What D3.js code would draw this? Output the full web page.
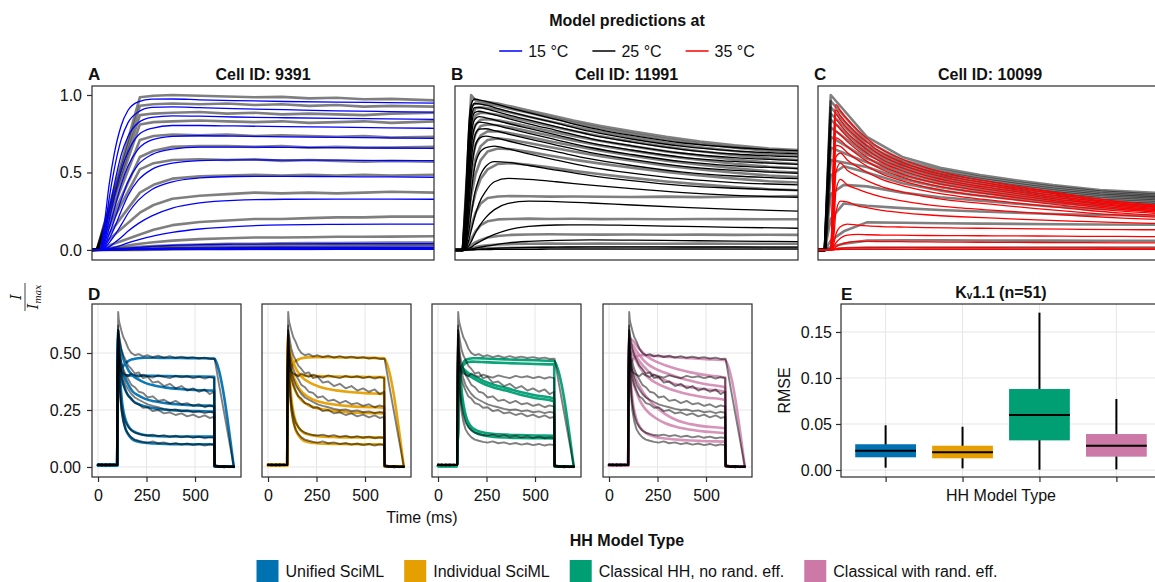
<!DOCTYPE html>
<html>
<head>
<meta charset="utf-8">
<script src="https://cdn.jsdelivr.net/npm/d3@7"></script>
<style>
  html, body { margin: 0; padding: 0; background: #fff; }
  svg { display: block; font-family: "Liberation Sans", Arial, Helvetica, sans-serif; }
</style>
</head>
<body>
<svg id="chart" width="1155" height="582"></svg>
<script>
// ================= data =================
// Panels A–C: normalised K+ currents of three cells (time in ms from step onset window)
const tempLabels = ["15 °C", "25 °C", "35 °C"];
const tempColors = ["#0000ff", "#000000", "#ff0000"];
const cellIds = ["9391", "11991", "10099"];

// Cell 9391 – recorded sweeps
const tA_data = [-15, 0, 125, 165, 220, 300, 380, 460, 540, 620, 700, 780, 860, 985];
const A_data = [
  [0,0.005,0.985,0.995,1.0,0.995,0.99,0.985,0.988,0.978,0.982,0.972,0.975,0.965],
  [0,0.005,0.93,0.94,0.945,0.94,0.945,0.935,0.94,0.93,0.935,0.925,0.93,0.925],
  [0,0.004,0.87,0.88,0.885,0.89,0.88,0.885,0.875,0.88,0.875,0.87,0.88,0.885],
  [0,0.004,0.81,0.825,0.83,0.835,0.83,0.825,0.83,0.82,0.825,0.83,0.82,0.83],
  [0,0.003,0.71,0.735,0.745,0.74,0.745,0.735,0.74,0.735,0.73,0.735,0.725,0.73],
  [0,0.003,0.6,0.64,0.665,0.67,0.67,0.665,0.67,0.66,0.665,0.66,0.66,0.665],
  [0,0.002,0.52,0.56,0.58,0.585,0.58,0.585,0.575,0.58,0.575,0.57,0.575,0.57],
  [0,0.002,0.37,0.42,0.46,0.475,0.48,0.485,0.48,0.485,0.48,0.485,0.48,0.485],
  [0,0.002,0.24,0.29,0.33,0.35,0.36,0.37,0.365,0.37,0.365,0.37,0.375,0.37],
  [0,0.001,0.1,0.13,0.16,0.18,0.19,0.2,0.2,0.205,0.21,0.21,0.215,0.215],
  [0,0.001,0.04,0.05,0.06,0.07,0.075,0.08,0.08,0.082,0.085,0.085,0.086,0.088],
  [0,0,0.02,0.025,0.03,0.035,0.04,0.04,0.042,0.045,0.045,0.046,0.047,0.048],
  [0,0,0.01,0.015,0.02,0.022,0.025,0.027,0.028,0.03,0.03,0.031,0.032,0.033],
  [0,0,0.005,0.008,0.01,0.012,0.014,0.015,0.016,0.017,0.018,0.019,0.02,0.02],
  [0,0,0,0.002,0.003,0.004,0.005,0.006,0.006,0.007,0.008,0.008,0.009,0.01]
];
// Cell 9391 – model at 15 °C
const tA_model = [-15, 8, 20, 35, 50, 70, 90, 120, 160, 220, 300, 400, 550, 700, 850, 985];
const A_model = [
  [0,0,0.15,0.42,0.62,0.8,0.9,0.955,0.973,0.974,0.969,0.964,0.958,0.954,0.951,0.948],
  [0,0,0.1,0.33,0.52,0.71,0.82,0.89,0.92,0.923,0.918,0.912,0.905,0.898,0.893,0.889],
  [0,0,0.07,0.25,0.42,0.61,0.73,0.82,0.855,0.865,0.863,0.858,0.853,0.849,0.846,0.843],
  [0,0,0.05,0.19,0.34,0.51,0.63,0.74,0.785,0.803,0.803,0.8,0.796,0.792,0.788,0.785],
  [0,0,0.035,0.14,0.26,0.42,0.54,0.65,0.71,0.733,0.737,0.734,0.73,0.727,0.723,0.72],
  [0,0,0.02,0.1,0.19,0.32,0.44,0.55,0.615,0.65,0.663,0.664,0.662,0.66,0.658,0.656],
  [0,0,0.015,0.07,0.14,0.25,0.35,0.45,0.52,0.56,0.577,0.581,0.58,0.579,0.577,0.576],
  [0,0,0.01,0.045,0.09,0.16,0.235,0.32,0.39,0.44,0.465,0.474,0.475,0.473,0.471,0.469],
  [0,0,0.005,0.02,0.045,0.08,0.12,0.17,0.22,0.27,0.303,0.32,0.327,0.328,0.328,0.327],
  [0,0,0.002,0.008,0.016,0.03,0.045,0.065,0.088,0.113,0.135,0.151,0.162,0.165,0.166,0.166],
  [0,0,0,0.002,0.004,0.008,0.012,0.017,0.023,0.029,0.034,0.037,0.039,0.04,0.04,0.04],
  [0,0,0,0.001,0.002,0.003,0.005,0.007,0.009,0.011,0.013,0.015,0.016,0.016,0.017,0.017],
  [0,0,0,0,0.001,0.002,0.003,0.004,0.005,0.006,0.007,0.008,0.008,0.009,0.009,0.009],
  [0,0,0,0,0,0.001,0.001,0.002,0.002,0.003,0.003,0.003,0.004,0.004,0.004,0.004]
];

// Cell 11991 – recorded sweeps
const tB_data = [-15, 8, 32, 45, 60, 80, 110, 150, 200, 260, 330, 410, 500, 600, 700, 800, 900, 985];
const B_data = [
  [0,0,1.0,0.965,0.96,0.955,0.945,0.925,0.9,0.87,0.835,0.8,0.765,0.73,0.7,0.675,0.655,0.645],
  [0,0,0.93,0.945,0.945,0.94,0.93,0.91,0.885,0.855,0.82,0.785,0.75,0.715,0.685,0.66,0.64,0.63],
  [0,0,0.86,0.915,0.92,0.915,0.905,0.885,0.86,0.83,0.797,0.762,0.727,0.692,0.663,0.638,0.618,0.607],
  [0,0,0.8,0.87,0.885,0.882,0.873,0.855,0.83,0.8,0.768,0.734,0.7,0.665,0.637,0.612,0.592,0.58],
  [0,0,0.72,0.81,0.84,0.843,0.836,0.82,0.796,0.768,0.736,0.703,0.67,0.636,0.608,0.584,0.565,0.555],
  [0,0,0.64,0.75,0.8,0.81,0.805,0.79,0.766,0.738,0.706,0.673,0.64,0.607,0.58,0.556,0.537,0.527],
  [0,0,0.55,0.68,0.74,0.765,0.765,0.752,0.73,0.702,0.672,0.64,0.608,0.576,0.55,0.527,0.508,0.5],
  [0,0,0.45,0.59,0.67,0.71,0.72,0.71,0.69,0.664,0.635,0.605,0.575,0.544,0.52,0.498,0.48,0.47],
  [0,0,0.35,0.49,0.58,0.635,0.655,0.65,0.633,0.61,0.583,0.557,0.53,0.503,0.48,0.46,0.443,0.435],
  [0,0,0.25,0.37,0.46,0.52,0.555,0.56,0.55,0.533,0.51,0.488,0.465,0.442,0.423,0.406,0.392,0.385],
  [0,0,0.15,0.24,0.3,0.335,0.345,0.348,0.346,0.344,0.345,0.343,0.342,0.344,0.341,0.343,0.345,0.348],
  [0,0,0.07,0.12,0.16,0.185,0.197,0.2,0.202,0.2,0.201,0.199,0.2,0.198,0.2,0.199,0.198,0.198],
  [0,0,0.03,0.05,0.065,0.08,0.09,0.097,0.1,0.101,0.1,0.099,0.1,0.098,0.099,0.097,0.098,0.097],
  [0,0,0.01,0.018,0.025,0.03,0.035,0.038,0.04,0.041,0.04,0.041,0.04,0.04,0.041,0.04,0.04,0.04],
  [0,0,0.003,0.006,0.008,0.01,0.012,0.013,0.014,0.015,0.015,0.015,0.016,0.015,0.015,0.016,0.015,0.015]
];
// Cell 11991 – model at 25 °C
const tB_model = [-15, 10, 18, 26, 34, 42, 55, 75, 100, 140, 200, 280, 380, 500, 650, 800, 985];
const B_model = [
  [0,0,0.44,0.83,0.95,0.974,0.969,0.959,0.945,0.92,0.886,0.842,0.788,0.739,0.69,0.661,0.641],
  [0,0,0.36,0.76,0.91,0.945,0.943,0.934,0.919,0.895,0.861,0.818,0.765,0.716,0.668,0.639,0.62],
  [0,0,0.3,0.69,0.87,0.918,0.92,0.911,0.896,0.872,0.839,0.796,0.743,0.696,0.648,0.619,0.6],
  [0,0,0.24,0.62,0.82,0.885,0.895,0.886,0.872,0.848,0.814,0.772,0.719,0.672,0.624,0.596,0.577],
  [0,0,0.19,0.54,0.76,0.84,0.86,0.853,0.839,0.816,0.784,0.742,0.691,0.645,0.598,0.571,0.552],
  [0,0,0.15,0.47,0.69,0.79,0.825,0.82,0.807,0.784,0.752,0.711,0.661,0.616,0.57,0.543,0.525],
  [0,0,0.11,0.39,0.61,0.73,0.78,0.782,0.77,0.748,0.716,0.677,0.628,0.584,0.539,0.513,0.495],
  [0,0,0.08,0.31,0.52,0.65,0.72,0.735,0.725,0.703,0.672,0.634,0.587,0.545,0.502,0.477,0.46],
  [0,0,0.05,0.22,0.4,0.53,0.62,0.66,0.67,0.652,0.62,0.58,0.535,0.496,0.458,0.435,0.42],
  [0,0,0.03,0.13,0.25,0.36,0.46,0.54,0.57,0.565,0.545,0.515,0.48,0.447,0.415,0.398,0.385],
  [0,0,0.015,0.07,0.14,0.21,0.3,0.38,0.44,0.462,0.455,0.44,0.418,0.395,0.37,0.352,0.34],
  [0,0,0.006,0.03,0.06,0.1,0.15,0.21,0.26,0.3,0.315,0.312,0.303,0.29,0.275,0.262,0.25],
  [0,0,0.002,0.01,0.02,0.033,0.05,0.075,0.1,0.13,0.152,0.161,0.162,0.158,0.152,0.146,0.14],
  [0,0,0,0.003,0.006,0.01,0.016,0.024,0.033,0.045,0.055,0.062,0.065,0.063,0.06,0.057,0.054],
  [0,0,0,0.001,0.002,0.003,0.005,0.007,0.01,0.013,0.016,0.018,0.02,0.02,0.019,0.019,0.018],
  [0,0,0,0,0.001,0.001,0.002,0.002,0.003,0.004,0.004,0.005,0.005,0.005,0.005,0.005,0.005]
];

// Cell 10099 – recorded sweeps (coarsely sampled)
const tC_data = [-15, 5, 22, 60, 127, 230, 340, 456, 560, 668, 805, 985];
const C_data = [
  [0,0,1.0,0.903,0.73,0.6,0.53,0.484,0.45,0.419,0.387,0.366],
  [0,0,0.96,0.866,0.7,0.58,0.515,0.47,0.437,0.407,0.377,0.355],
  [0,0,0.92,0.831,0.675,0.565,0.5,0.457,0.425,0.395,0.366,0.345],
  [0,0,0.88,0.799,0.655,0.55,0.487,0.445,0.413,0.383,0.356,0.337],
  [0,0,0.84,0.766,0.635,0.535,0.473,0.432,0.4,0.372,0.345,0.327],
  [0,0,0.79,0.727,0.615,0.518,0.458,0.418,0.387,0.36,0.334,0.317],
  [0,0,0.73,0.679,0.59,0.5,0.442,0.403,0.373,0.347,0.322,0.305],
  [0,0,0.66,0.626,0.565,0.48,0.425,0.387,0.358,0.333,0.31,0.294],
  [0,0,0.58,0.564,0.535,0.458,0.405,0.37,0.342,0.318,0.297,0.282],
  [0,0,0.48,0.54,0.5,0.43,0.383,0.35,0.325,0.303,0.283,0.27],
  [0,0,0.36,0.42,0.41,0.37,0.34,0.318,0.298,0.28,0.265,0.255],
  [0,0,0.2,0.3,0.285,0.27,0.258,0.248,0.24,0.232,0.225,0.22],
  [0,0,0.06,0.12,0.178,0.175,0.172,0.17,0.168,0.166,0.164,0.162],
  [0,0,0.02,0.04,0.06,0.062,0.062,0.061,0.06,0.06,0.059,0.058],
  [0,0,0.005,0.01,0.015,0.016,0.016,0.016,0.016,0.016,0.016,0.016]
];
// Cell 10099 – model at 35 °C
const tC_model = [-15, 22, 28, 32, 37, 50, 70, 100, 130, 170, 220, 300, 400, 500, 620, 750, 870, 985];
const C_model = [
  [0,0,0.45,0.8,0.938,0.9,0.845,0.775,0.715,0.65,0.595,0.53,0.475,0.435,0.39,0.345,0.31,0.286],
  [0,0,0.4,0.75,0.903,0.867,0.814,0.747,0.69,0.627,0.575,0.512,0.46,0.422,0.379,0.335,0.302,0.279],
  [0,0,0.36,0.7,0.873,0.838,0.787,0.723,0.667,0.607,0.557,0.497,0.446,0.41,0.368,0.326,0.294,0.272],
  [0,0,0.32,0.66,0.839,0.806,0.757,0.696,0.643,0.585,0.537,0.48,0.431,0.396,0.357,0.317,0.286,0.265],
  [0,0,0.28,0.62,0.809,0.777,0.73,0.671,0.621,0.565,0.519,0.464,0.418,0.384,0.346,0.308,0.278,0.258],
  [0,0,0.24,0.57,0.765,0.744,0.699,0.643,0.595,0.542,0.498,0.446,0.402,0.37,0.334,0.297,0.269,0.25],
  [0,0,0.2,0.52,0.725,0.709,0.667,0.614,0.568,0.519,0.477,0.428,0.386,0.356,0.321,0.287,0.26,0.242],
  [0,0,0.16,0.45,0.675,0.668,0.629,0.58,0.537,0.491,0.452,0.406,0.367,0.339,0.307,0.275,0.25,0.233],
  [0,0,0.12,0.36,0.6,0.625,0.581,0.536,0.498,0.456,0.421,0.379,0.344,0.318,0.289,0.26,0.237,0.222],
  [0,0,0.09,0.28,0.5,0.56,0.515,0.477,0.444,0.409,0.379,0.343,0.313,0.292,0.267,0.242,0.223,0.21],
  [0,0,0.06,0.19,0.38,0.455,0.42,0.392,0.368,0.342,0.32,0.293,0.271,0.255,0.237,0.219,0.205,0.195],
  [0,0,0.035,0.11,0.24,0.315,0.31,0.285,0.271,0.255,0.243,0.227,0.214,0.205,0.194,0.184,0.176,0.17],
  [0,0,0.015,0.05,0.1,0.15,0.167,0.16,0.155,0.151,0.148,0.144,0.141,0.139,0.136,0.133,0.131,0.13],
  [0,0,0.008,0.025,0.045,0.075,0.096,0.1,0.098,0.096,0.095,0.093,0.092,0.091,0.09,0.088,0.087,0.086],
  [0,0,0.003,0.01,0.02,0.035,0.048,0.055,0.055,0.054,0.053,0.052,0.05,0.049,0.048,0.047,0.046,0.045],
  [0,0,0.001,0.003,0.006,0.01,0.013,0.015,0.015,0.015,0.015,0.014,0.014,0.014,0.013,0.013,0.012,0.011],
  [0,0,0,0.001,0.002,0.003,0.004,0.004,0.004,0.004,0.004,0.004,0.004,0.004,0.004,0.004,0.004,0.004]
];

// Panel D: one cell's sweeps (step 100–600 ms) and the four fitted model types
const tD_data = [0,20,40,60,80,99,101,104,108,114,120,130,142,156,172,190,210,232,256,282,310,340,370,400,430,460,490,520,550,575,599,601,625,650,675,700];
const D_data = [
  [.01,.006,.012,.008,.011,.009,.45,.68,.64,.62,.6,.57,.55,.52,.5,.49,.495,.485,.49,.482,.488,.48,.486,.479,.484,.478,.482,.476,.48,.474,.475,.474,.356,.238,.119,.002],
  [.008,.012,.007,.01,.009,.008,.5,.62,.52,.45,.42,.41,.405,.398,.41,.402,.395,.405,.398,.392,.402,.395,.39,.4,.393,.398,.39,.396,.388,.394,.39,.01,.004,-.002,.003,.001],
  [.012,.008,.01,.006,.011,.009,.45,.6,.58,.55,.52,.49,.47,.445,.43,.41,.415,.39,.395,.37,.375,.355,.365,.345,.355,.335,.345,.33,.34,.32,.33,.006,.001,.004,-.001,.002],
  [.009,.011,.006,.01,.008,.01,.4,.56,.53,.49,.46,.43,.405,.385,.36,.35,.33,.325,.305,.31,.29,.295,.28,.29,.275,.28,.268,.275,.262,.27,.265,.005,.002,.005,0,.003],
  [.01,.007,.011,.008,.009,.01,.38,.52,.49,.45,.42,.39,.36,.34,.32,.305,.295,.285,.275,.268,.262,.255,.25,.252,.245,.248,.24,.244,.236,.242,.238,.004,0,.003,.001,0],
  [.007,.01,.008,.012,.007,.009,.36,.5,.46,.42,.39,.36,.335,.31,.3,.28,.275,.26,.262,.245,.25,.235,.24,.228,.235,.222,.23,.218,.226,.215,.22,.003,.003,-.001,.002,.001],
  [.011,.008,.01,.007,.01,.008,.45,.6,.45,.34,.28,.23,.195,.175,.16,.15,.145,.14,.138,.142,.135,.14,.132,.137,.13,.135,.128,.133,.126,.13,.127,.004,.001,.003,0,.002],
  [.008,.01,.007,.011,.009,.01,.42,.58,.42,.31,.25,.2,.165,.145,.13,.12,.115,.11,.107,.112,.104,.108,.1,.105,.098,.103,.096,.101,.094,.099,.096,.003,0,.002,.001,0]
];
const tD_model = [0,99,101,104,108,114,122,132,145,160,180,205,240,290,350,420,500,599,601,700];
const D_unified = [
  [.008,.008,.3,.36,.39,.41,.43,.445,.458,.467,.473,.477,.479,.479,.478,.478,.477,.476,.474,0],
  [.008,.008,.35,.39,.4,.402,.403,.403,.402,.402,.401,.401,.4,.4,.399,.398,.397,.396,.003,.002],
  [.008,.008,.45,.58,.56,.53,.5,.47,.445,.42,.4,.385,.37,.357,.348,.342,.338,.335,.003,.002],
  [.008,.008,.42,.55,.52,.48,.44,.41,.38,.355,.33,.315,.3,.288,.28,.274,.27,.268,.003,.002],
  [.008,.008,.4,.5,.47,.43,.39,.36,.33,.31,.29,.277,.266,.257,.251,.247,.245,.243,.003,.002],
  [.008,.008,.5,.6,.5,.39,.3,.24,.2,.175,.158,.148,.14,.136,.134,.134,.133,.133,.003,.002],
  [.008,.008,.48,.57,.46,.35,.26,.2,.16,.137,.12,.112,.106,.103,.101,.1,.1,.1,.003,.002]
];
const D_individual = [
  [.008,.008,.3,.37,.4,.42,.44,.455,.466,.473,.478,.481,.482,.482,.481,.48,.479,.477,.475,0],
  [.008,.008,.36,.395,.403,.405,.405,.404,.403,.402,.401,.4,.399,.398,.397,.396,.395,.394,.003,.002],
  [.008,.008,.46,.56,.54,.51,.48,.455,.43,.41,.39,.375,.36,.345,.336,.329,.324,.32,.003,.002],
  [.008,.008,.43,.53,.5,.46,.425,.395,.37,.345,.325,.308,.293,.281,.273,.267,.263,.26,.003,.002],
  [.008,.008,.4,.49,.46,.42,.385,.355,.327,.305,.287,.273,.261,.252,.245,.24,.237,.235,.003,.002],
  [.008,.008,.5,.58,.48,.37,.29,.235,.195,.17,.153,.143,.137,.133,.131,.13,.13,.13,.003,.002],
  [.008,.008,.48,.55,.44,.33,.25,.195,.158,.135,.118,.11,.105,.102,.101,.1,.1,.1,.003,.002]
];
const D_classical = [
  [.005,.005,.1,.2,.3,.4,.44,.46,.47,.475,.477,.477,.476,.474,.472,.47,.468,.465,.463,0],
  [.005,.005,.1,.2,.3,.39,.43,.448,.457,.461,.462,.461,.46,.458,.456,.454,.452,.45,.003,.002],
  [.005,.005,.1,.2,.32,.44,.44,.43,.42,.41,.4,.39,.375,.36,.347,.33,.315,.3,.003,.002],
  [.005,.005,.1,.2,.32,.43,.43,.42,.41,.4,.39,.378,.363,.348,.335,.318,.303,.288,.003,.002],
  [.005,.005,.1,.2,.3,.4,.33,.27,.22,.19,.17,.158,.15,.145,.142,.14,.138,.137,.003,.002],
  [.005,.005,.1,.2,.3,.38,.31,.25,.205,.177,.158,.146,.138,.132,.129,.127,.126,.125,.003,.002]
];
const D_randeff = [
  [.008,.008,.3,.38,.42,.45,.47,.48,.487,.49,.49,.489,.487,.484,.48,.477,.473,.469,.467,0],
  [.008,.008,.45,.56,.565,.56,.555,.545,.53,.515,.497,.48,.463,.446,.43,.415,.403,.392,.003,.002],
  [.008,.008,.44,.54,.545,.54,.535,.522,.505,.487,.467,.448,.43,.413,.395,.378,.363,.349,.003,.002],
  [.008,.008,.42,.52,.53,.525,.515,.5,.48,.46,.44,.418,.398,.38,.362,.35,.34,.33,.003,.002],
  [.008,.008,.4,.5,.51,.505,.495,.478,.457,.435,.413,.39,.37,.35,.332,.317,.305,.294,.003,.002],
  [.008,.008,.4,.47,.46,.445,.425,.4,.375,.35,.322,.295,.265,.232,.205,.188,.177,.17,.003,.002],
  [.008,.008,.42,.5,.45,.41,.38,.35,.32,.29,.262,.238,.215,.192,.175,.163,.155,.148,.003,.002],
  [.008,.008,.45,.56,.45,.36,.29,.24,.2,.175,.155,.142,.132,.125,.12,.116,.113,.111,.003,.002]
];

// Panel E: RMSE distribution per model type (Kv1.1, n = 51)
const modelTypes = ["Unified SciML", "Individual SciML", "Classical HH, no rand. eff.", "Classical with rand. eff."];
const modelColors = ["#0072B2", "#E69F00", "#009E73", "#CC79A7"];
const rmseLow  = [0.0025, 0.0018, 0.0003, 0.0007];
const rmseQ1   = [0.0138, 0.0127, 0.0322, 0.0145];
const rmseMed  = [0.0210, 0.0192, 0.0598, 0.0264];
const rmseQ3   = [0.0280, 0.0264, 0.0880, 0.0391];
const rmseHigh = [0.0486, 0.0470, 0.1710, 0.0772];

// axis ticks
const topYTicks = [0, 0.5, 1.0];
const dYTicks = [0, 0.25, 0.5];
const dXTicks = [0, 250, 500];
const eYTicks = [0, 0.05, 0.10, 0.15];

// ================= drawing =================
const svg = d3.select("#chart");
const INK = "#111";
const SPINE = "#2b2b2b";
const GRID = "#e6e6e6";
let clipId = 0;

function clipFor(box) {
  const id = "clip" + (clipId++);
  svg.append("clipPath").attr("id", id).append("rect")
    .attr("x", box.x).attr("y", box.y).attr("width", box.w).attr("height", box.h);
  return `url(#${id})`;
}

function drawLines(layer, t, rows, x, y, style, curve) {
  const line = d3.line().x((d, i) => x(t[i])).y(d => y(d)).curve(curve);
  layer.append("g").selectAll("path").data(rows).join("path")
    .attr("d", line)
    .attr("fill", "none")
    .attr("stroke", style.color)
    .attr("stroke-width", style.width)
    .attr("stroke-opacity", style.opacity)
    .attr("stroke-linejoin", "round")
    .attr("stroke-linecap", "round");
}

function frame(box) {
  svg.append("rect").attr("x", box.x).attr("y", box.y).attr("width", box.w).attr("height", box.h)
    .attr("fill", "none").attr("stroke", SPINE).attr("stroke-width", 1.2);
}

function styleAxis(g) {
  g.select(".domain").remove();
  g.selectAll(".tick line").attr("stroke", SPINE).attr("stroke-width", 1.2);
  g.selectAll(".tick text").attr("fill", INK).style("font-size", "16px")
    .style("font-family", "'Liberation Sans', Arial, sans-serif");
}

function label(x, y, text, opts = {}) {
  return svg.append("text").attr("x", x).attr("y", y)
    .attr("text-anchor", opts.anchor || "middle")
    .attr("font-size", opts.size || 16)
    .attr("font-weight", opts.bold ? "bold" : "normal")
    .attr("fill", INK)
    .text(text);
}

// ---- top row: A, B, C ----
const topBoxes = [
  {x: 92, y: 86, w: 342, h: 174},
  {x: 455, y: 86, w: 343, h: 174},
  {x: 818, y: 86, w: 344, h: 174}
];
const topSets = [
  {tD: tA_data, D: A_data, tM: tA_model, M: A_model},
  {tD: tB_data, D: B_data, tM: tB_model, M: B_model},
  {tD: tC_data, D: C_data, tM: tC_model, M: C_model}
];
const panelLetters = ["A", "B", "C"];

topBoxes.forEach((box, k) => {
  const x = d3.scaleLinear().domain([-15, 985]).range([box.x, box.x + box.w]);
  const y = d3.scaleLinear().domain([-0.065, 1.058]).range([box.y + box.h, box.y]);
  const layer = svg.append("g").attr("clip-path", clipFor(box));
  const s = topSets[k];
  drawLines(layer, s.tD, s.D, x, y, {color: "#000", width: 2.6, opacity: 0.5}, d3.curveLinear);
  drawLines(layer, s.tM, s.M, x, y, {color: tempColors[k], width: 1.3, opacity: 1}, d3.curveMonotoneX);
  frame(box);
  if (k === 0) {
    const ax = svg.append("g").attr("transform", `translate(${box.x},0)`)
      .call(d3.axisLeft(y).tickValues(topYTicks).tickFormat(d3.format(".1f")).tickSize(5).tickPadding(5));
    styleAxis(ax);
  }
  label(box.x - 4, 80, panelLetters[k], {anchor: "start", bold: true, size: 17});
  label(box.x + box.w / 2, 80, "Cell ID: " + cellIds[k], {bold: true});
});

// ---- legend for temperatures ----
label(627, 26, "Model predictions at", {bold: true});
{
  const g = svg.append("g");
  let cx = 0;
  tempLabels.forEach((lab, i) => {
    const it = g.append("g");
    it.append("line").attr("x1", 0).attr("x2", 23).attr("y1", 51).attr("y2", 51)
      .attr("stroke", tempColors[i]).attr("stroke-width", 1.5);
    const tx = it.append("text").attr("x", 29).attr("y", 57).attr("font-size", 16).attr("fill", INK).text(lab);
    const w = 29 + tx.node().getComputedTextLength();
    it.attr("transform", `translate(${cx},0)`);
    cx += w + 24;
  });
  const total = cx - 24;
  g.attr("transform", `translate(${627 - total / 2},0)`);
}

// ---- Y label (I / I_max) ----
{
  const g = svg.append("g").attr("transform", "translate(25,297) rotate(-90)")
    .style("font-family", "'DejaVu Serif', 'Liberation Serif', serif").attr("fill", INK);
  g.append("text").attr("x", 0).attr("y", -4).attr("text-anchor", "middle")
    .attr("font-size", 14).attr("font-style", "italic").text("I");
  g.append("line").attr("x1", -14).attr("x2", 14).attr("y1", 0).attr("y2", 0)
    .attr("stroke", INK).attr("stroke-width", 0.8);
  const den = g.append("text").attr("x", 0).attr("y", 13).attr("text-anchor", "middle")
    .attr("font-size", 14).attr("font-style", "italic");
  den.append("tspan").text("I");
  den.append("tspan").attr("font-size", 9).attr("dy", 3).text("max");
}

// ---- panel D ----
const dBoxes = [92, 262, 432, 603].map(x0 => ({x: x0, y: 304, w: 149, h: 173}));
const dModels = [D_unified, D_individual, D_classical, D_randeff];
const dModelOpacity = [0.95, 0.95, 0.95, 0.8];

dBoxes.forEach((box, k) => {
  const x = d3.scaleLinear().domain([-31, 737]).range([box.x, box.x + box.w]);
  const y = d3.scaleLinear().domain([-0.044, 0.715]).range([box.y + box.h, box.y]);
  const grid = svg.append("g");
  grid.selectAll(".gx").data(dXTicks).join("line")
    .attr("x1", d => x(d)).attr("x2", d => x(d)).attr("y1", box.y).attr("y2", box.y + box.h)
    .attr("stroke", GRID).attr("stroke-width", 1);
  grid.selectAll(".gy").data(dYTicks).join("line")
    .attr("x1", box.x).attr("x2", box.x + box.w).attr("y1", d => y(d)).attr("y2", d => y(d))
    .attr("stroke", GRID).attr("stroke-width", 1);
  const layer = svg.append("g").attr("clip-path", clipFor(box));
  drawLines(layer, tD_model, dModels[k], x, y, {color: modelColors[k], width: 2.6, opacity: dModelOpacity[k]}, d3.curveMonotoneX);
  drawLines(layer, tD_data, D_data, x, y, {color: "#000", width: 1.9, opacity: 0.5}, d3.curveLinear);
  frame(box);
  const axb = svg.append("g").attr("transform", `translate(0,${box.y + box.h})`)
    .call(d3.axisBottom(x).tickValues(dXTicks).tickSize(5).tickPadding(8));
  styleAxis(axb);
  if (k === 0) {
    const axl = svg.append("g").attr("transform", `translate(${box.x},0)`)
      .call(d3.axisLeft(y).tickValues(dYTicks).tickFormat(d3.format(".2f")).tickSize(5).tickPadding(6));
    styleAxis(axl);
    label(box.x - 4, 300, "D", {anchor: "start", bold: true, size: 17});
  }
});
label((dBoxes[0].x + dBoxes[3].x + dBoxes[3].w) / 2, 523, "Time (ms)");

// ---- panel E: boxplots ----
{
  const box = {x: 841, y: 304, w: 320, h: 173};
  const x = d3.scalePoint().domain(modelTypes).range([box.x, box.x + box.w]).padding(0.58);
  const y = d3.scaleLinear().domain([-0.0076, 0.1804]).range([box.y + box.h, box.y]);
  const bw = x.step() * 0.79;
  const grid = svg.append("g");
  grid.selectAll(".gx").data(modelTypes).join("line")
    .attr("x1", d => x(d)).attr("x2", d => x(d)).attr("y1", box.y).attr("y2", box.y + box.h)
    .attr("stroke", GRID).attr("stroke-width", 1);
  grid.selectAll(".gy").data(eYTicks).join("line")
    .attr("x1", box.x).attr("x2", box.x + box.w).attr("y1", d => y(d)).attr("y2", d => y(d))
    .attr("stroke", GRID).attr("stroke-width", 1);

  const layer = svg.append("g").attr("clip-path", clipFor(box));
  const cats = layer.selectAll("g").data(modelTypes).join("g");
  cats.append("line")
    .attr("x1", d => x(d)).attr("x2", d => x(d))
    .attr("y1", (d, i) => y(rmseLow[i])).attr("y2", (d, i) => y(rmseHigh[i]))
    .attr("stroke", "#000").attr("stroke-width", 2);
  cats.append("rect")
    .attr("x", d => x(d) - bw / 2).attr("width", bw)
    .attr("y", (d, i) => y(rmseQ3[i])).attr("height", (d, i) => y(rmseQ1[i]) - y(rmseQ3[i]))
    .attr("fill", (d, i) => modelColors[i]);
  cats.append("line")
    .attr("x1", d => x(d) - bw / 2).attr("x2", d => x(d) + bw / 2)
    .attr("y1", (d, i) => y(rmseMed[i])).attr("y2", (d, i) => y(rmseMed[i]))
    .attr("stroke", "#000").attr("stroke-width", 2);

  frame(box);
  const axl = svg.append("g").attr("transform", `translate(${box.x},0)`)
    .call(d3.axisLeft(y).tickValues(eYTicks).tickFormat(d3.format(".2f")).tickSize(5).tickPadding(4));
  styleAxis(axl);
  const axb = svg.append("g").attr("transform", `translate(0,${box.y + box.h})`)
    .call(d3.axisBottom(x).tickSize(5).tickFormat(""));
  styleAxis(axb);

  label(box.x, 300, "E", {anchor: "start", bold: true, size: 17});
  const t = svg.append("text").attr("x", box.x + box.w / 2).attr("y", 298).attr("text-anchor", "middle")
    .attr("font-size", 16).attr("font-weight", "bold").attr("fill", INK);
  t.append("tspan").text("K");
  t.append("tspan").attr("font-size", 10).attr("dy", 1).text("v");
  t.append("tspan").attr("dy", -1).text("1.1 (n=51)");
  label(box.x + box.w / 2, 501, "HH Model Type");
  svg.append("text").attr("transform", `translate(790,${box.y + box.h / 2}) rotate(-90)`)
    .attr("text-anchor", "middle").attr("font-size", 16).attr("fill", INK).text("RMSE");
}

// ---- legend for model types ----
label(627, 546, "HH Model Type", {bold: true});
{
  const g = svg.append("g");
  let cx = 0;
  modelTypes.forEach((lab, i) => {
    const it = g.append("g").attr("transform", `translate(${cx},0)`);
    it.append("rect").attr("x", 0).attr("y", 560).attr("width", 22).attr("height", 22)
      .attr("fill", modelColors[i]);
    const tx = it.append("text").attr("x", 29).attr("y", 577).attr("font-size", 16).attr("fill", INK).text(lab);
    cx += 29 + tx.node().getComputedTextLength() + 20;
  });
  const total = cx - 20;
  g.attr("transform", `translate(${627 - total / 2},0)`);
}
</script>
</body>
</html>
